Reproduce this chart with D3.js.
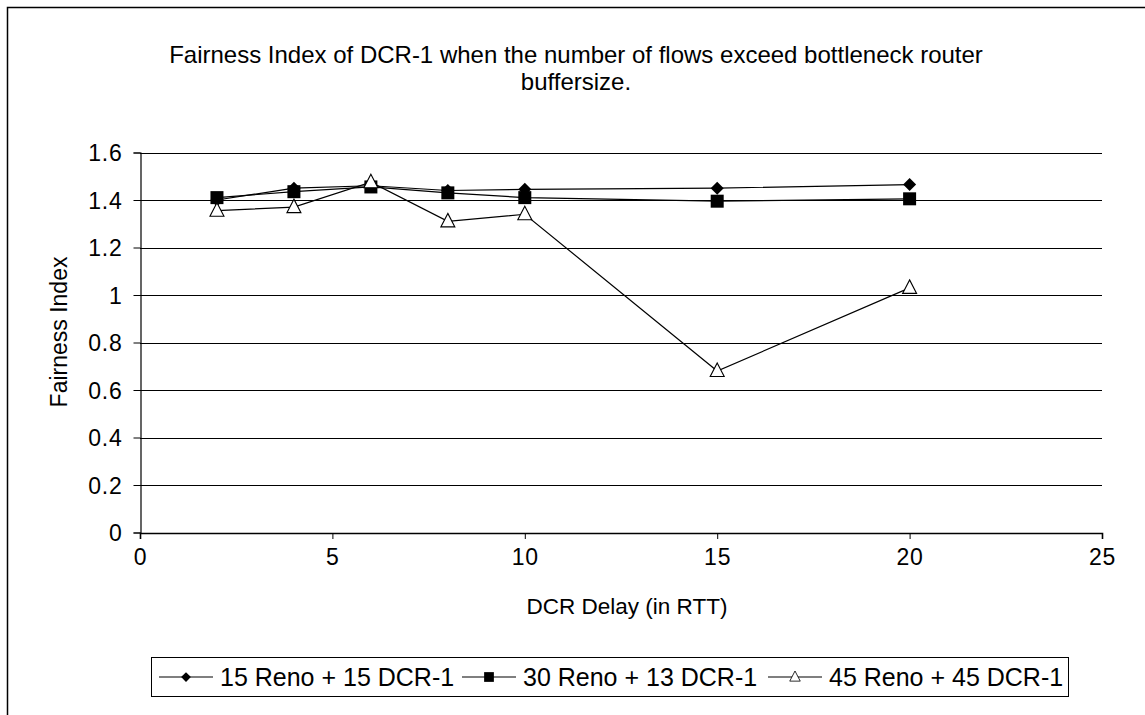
<!DOCTYPE html>
<html><head><meta charset="utf-8">
<script src="https://cdn.jsdelivr.net/npm/d3@7"></script>
<style>body{margin:0;background:#fff}svg{display:block}text{font-family:"Liberation Sans",Arial,sans-serif;fill:#000}</style>
</head><body>
<svg id="c" width="1145" height="715"></svg>
<script>
const xValues = [2, 4, 6, 8, 10, 15, 20];
const seriesNames = ["15 Reno + 15 DCR-1", "30 Reno + 13 DCR-1", "45 Reno + 45 DCR-1"];
const seriesA = [1.40, 1.45, 1.46, 1.44, 1.445, 1.45, 1.465];
const seriesB = [1.41, 1.435, 1.455, 1.43, 1.41, 1.395, 1.405];
const seriesC = [1.355, 1.37, 1.475, 1.31, 1.34, 0.68, 1.03];
const xTicks = [0, 5, 10, 15, 20, 25];
const yTicks = [0, 0.2, 0.4, 0.6, 0.8, 1, 1.2, 1.4, 1.6];
const titleLines = ["Fairness Index of DCR-1 when the number of flows exceed bottleneck router", "buffersize."];

const svg = d3.select("#c");
svg.append("rect").attr("x",7.5).attr("y",7.5).attr("width",1150).attr("height",720)
  .attr("fill","#fff").attr("stroke","#000").attr("stroke-width",1.5);

const x = d3.scaleLinear().domain([0,25]).range([140,1102]);
const y = d3.scaleLinear().domain([0,1.6]).range([532.5,152.5]);

// gridlines
svg.append("g").selectAll("line").data(yTicks.filter(d=>d>0)).join("line")
  .attr("x1",140).attr("x2",1102).attr("y1",d=>Math.round(y(d))+0.5).attr("y2",d=>Math.round(y(d))+0.5)
  .attr("stroke","#000").attr("stroke-width",1);

const fmt = d => String(+d.toFixed(1));
const yAxis = svg.append("g").attr("transform","translate(140.5,0)")
  .call(d3.axisLeft(y).tickValues(yTicks).tickSize(7).tickPadding(11).tickFormat(fmt));
const xAxis = svg.append("g").attr("transform","translate(0,533)")
  .call(d3.axisBottom(x).tickValues(xTicks).tickSize(6).tickPadding(10).tickFormat(d=>d));
[yAxis,xAxis].forEach(a=>{a.select(".domain").attr("stroke","#000").attr("stroke-width",1.2);
  a.selectAll(".tick line").attr("stroke","#000");
  a.selectAll("text").attr("font-size",23).attr("letter-spacing",0.8).attr("font-family","Liberation Sans, Arial, sans-serif").attr("fill","#000");});
xAxis.select(".domain").attr("stroke-width",1.6);
yAxis.selectAll("text").attr("dy","0.36em");

// title
svg.append("g").selectAll("text").data(titleLines).join("text")
  .attr("x",576).attr("y",(d,i)=>63+i*27).attr("text-anchor","middle").attr("font-size",24)
  .text(d=>d);

svg.append("text").attr("transform","translate(67,332) rotate(-90)").attr("text-anchor","middle")
  .attr("font-size",23).text("Fairness Index");
svg.append("text").attr("x",627).attr("y",614).attr("text-anchor","middle").attr("font-size",22.5).text("DCR Delay (in RTT)");

const seriesData = [seriesA, seriesB, seriesC];
const markers = [
  g => g.append("path").attr("d","M0,-6.5L6.5,0L0,6.5L-6.5,0Z").attr("fill","#000"),
  g => g.append("rect").attr("x",-6.5).attr("y",-6.5).attr("width",13).attr("height",13).attr("fill","#000"),
  g => g.append("path").attr("d","M0,-8L7,5.5L-7,5.5Z").attr("fill","#fff").attr("stroke","#000").attr("stroke-width",1.1)
];
const line = d3.line().x((d,i)=>x(xValues[i])).y(d=>y(d));
seriesData.forEach((s,k)=>{
  svg.append("path").datum(s).attr("d",line).attr("fill","none").attr("stroke","#000").attr("stroke-width",1.2);
});
seriesData.forEach((s,k)=>{
  s.forEach((v,i)=>{
    const g = svg.append("g").attr("transform",`translate(${x(xValues[i])},${y(v)})`);
    markers[k](g);
  });
});

// legend
svg.append("rect").attr("x",151.5).attr("y",657.5).attr("width",917).attr("height",39)
  .attr("fill","#fff").attr("stroke","#000").attr("stroke-width",1);
const legX = [159, 462, 768];
seriesNames.forEach((n,k)=>{
  const g = svg.append("g").attr("transform",`translate(${legX[k]},677)`);
  g.append("line").attr("x1",0).attr("x2",54).attr("stroke","#000").attr("stroke-width",1.2);
  const m = g.append("g").attr("transform","translate(27,0) scale(0.75)");
  markers[k](m);
  g.append("text").attr("x",61).attr("y",8.5).attr("font-size",25).text(n);
});
</script>
</body></html>
